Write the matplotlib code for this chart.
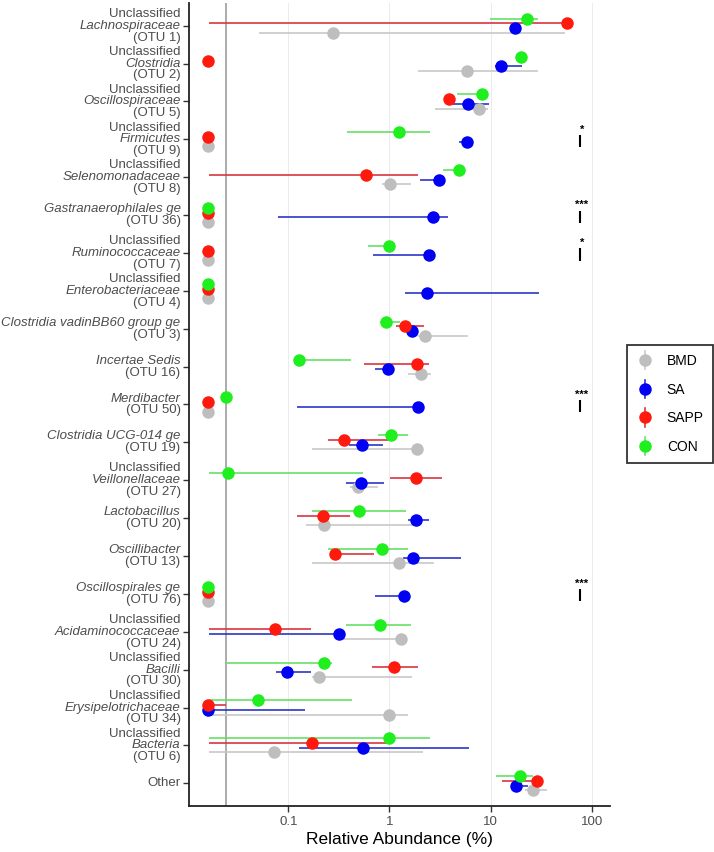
import numpy as np
import matplotlib
matplotlib.use("Agg")
import matplotlib.pyplot as plt
from matplotlib.lines import Line2D
from matplotlib.transforms import blended_transform_factory, ScaledTranslation

plt.rcParams["font.family"] = ["Liberation Sans", "DejaVu Sans"]

# Row labels: (plain line, italic line, OTU line)
taxa = [
    ("Unclassified", "Lachnospiraceae", "(OTU 1)"),
    ("Unclassified", "Clostridia", "(OTU 2)"),
    ("Unclassified", "Oscillospiraceae", "(OTU 5)"),
    ("Unclassified", "Firmicutes", "(OTU 9)"),
    ("Unclassified", "Selenomonadaceae", "(OTU 8)"),
    ("", "Gastranaerophilales ge", "(OTU 36)"),
    ("Unclassified", "Ruminococcaceae", "(OTU 7)"),
    ("Unclassified", "Enterobacteriaceae", "(OTU 4)"),
    ("", "Clostridia vadinBB60 group ge", "(OTU 3)"),
    ("", "Incertae Sedis", "(OTU 16)"),
    ("", "Merdibacter", "(OTU 50)"),
    ("", "Clostridia UCG-014 ge", "(OTU 19)"),
    ("Unclassified", "Veillonellaceae", "(OTU 27)"),
    ("", "Lactobacillus", "(OTU 20)"),
    ("", "Oscillibacter", "(OTU 13)"),
    ("", "Oscillospirales ge", "(OTU 76)"),
    ("Unclassified", "Acidaminococcaceae", "(OTU 24)"),
    ("Unclassified", "Bacilli", "(OTU 30)"),
    ("Unclassified", "Erysipelotrichaceae", "(OTU 34)"),
    ("Unclassified", "Bacteria", "(OTU 6)"),
    ("Other", "", ""),
]

groups = ["BMD", "SA", "SAPP", "CON"]

# Relative abundance (%), median with lower/upper range
bmd_mid = [0.275, 5.9, 7.64, 0.016, 1.02, 0.016, 0.016, 0.016, 2.25, 2.04, 0.016,
           1.89, 0.494, 0.223, 1.24, 0.016, 1.30, 0.199, 1.0, 0.0724, 26.5]
bmd_lo = [0.051, 1.91, 2.83, 0.016, 0.85, 0.016, 0.016, 0.016, 1.9, 1.54, 0.016,
          0.173, 0.408, 0.15, 0.173, 0.016, 0.32, 0.17, 0.0163, 0.0163, 22.0]
bmd_hi = [54.5, 29.3, 9.5, 0.016, 1.63, 0.016, 0.016, 0.016, 6.04, 2.58, 0.016,
          1.95, 0.778, 1.82, 2.78, 0.016, 1.35, 1.66, 1.52, 2.17, 35.9]

sa_mid = [17.5, 12.7, 5.95, 5.81, 3.12, 2.72, 2.45, 2.34, 1.67, 0.963, 1.91,
          0.533, 0.521, 1.82, 1.70, 1.39, 0.316, 0.098, 0.016, 0.553, 17.9]
sa_lo = [16.0, 11.0, 4.3, 4.84, 2.01, 0.0787, 0.684, 1.43, 1.5, 0.72, 0.121,
         0.394, 0.373, 1.54, 1.37, 0.721, 0.0163, 0.0752, 0.016, 0.126, 16.0]
sa_hi = [19.0, 20.6, 9.67, 6.3, 3.42, 3.77, 2.6, 30.4, 1.9, 1.0, 2.0,
         0.859, 0.885, 2.47, 5.07, 1.5, 0.33, 0.167, 0.145, 6.13, 23.7]

sapp_mid = [57.5, 0.016, 3.92, 0.016, 0.584, 0.016, 0.016, 0.016, 1.41, 1.89, 0.016,
            0.359, 1.83, 0.219, 0.29, 0.016, 0.073, 1.11, 0.016, 0.171, 28.6]
sapp_lo = [0.0163, 0.016, 3.7, 0.016, 0.0163, 0.016, 0.016, 0.016, 1.15, 0.557, 0.016,
           0.244, 1.02, 0.123, 0.26, 0.016, 0.0163, 0.669, 0.016, 0.0163, 13.1]
sapp_hi = [57.5, 0.016, 4.2, 0.016, 1.93, 0.016, 0.016, 0.016, 2.22, 2.47, 0.016,
           0.977, 3.34, 0.408, 0.705, 0.016, 0.168, 1.93, 0.0244, 1.0, 30.0]

con_mid = [23.1, 19.9, 8.18, 1.23, 4.88, 0.016, 0.985, 0.016, 0.927, 0.126, 0.0243,
           1.04, 0.0252, 0.505, 0.846, 0.016, 0.809, 0.226, 0.0496, 1.0, 19.6]
con_lo = [9.9, 18.0, 4.63, 0.379, 3.42, 0.016, 0.611, 0.016, 0.8, 0.12, 0.0243,
          0.778, 0.0163, 0.171, 0.244, 0.016, 0.37, 0.0243, 0.0163, 0.0163, 11.3]
con_hi = [29.7, 21.5, 9.2, 2.52, 5.39, 0.016, 1.05, 0.016, 1.26, 0.418, 0.0243,
          1.51, 0.553, 1.46, 1.54, 0.016, 1.64, 0.269, 0.425, 2.52, 26.5]

# significance stars (row index, label)
sig_rows = [3, 5, 6, 10, 15]
sig_labels = ["*", "***", "*", "***", "***"]

detect_limit = 0.024

point_colors = {"BMD": "#BEBEBE", "SA": "#0000F5", "SAPP": "#FF1A0D", "CON": "#1FEE1F"}
line_colors = {"BMD": "#C8C8C8", "SA": "#2B35C8", "SAPP": "#D9363E", "CON": "#66E066"}
offsets = {"BMD": 0.1875, "SA": 0.0625, "SAPP": -0.0625, "CON": -0.1875}

series = {
    "BMD": (bmd_mid, bmd_lo, bmd_hi),
    "SA": (sa_mid, sa_lo, sa_hi),
    "SAPP": (sapp_mid, sapp_lo, sapp_hi),
    "CON": (con_mid, con_lo, con_hi),
}


class PointRangeHandler:
    """Legend key like ggplot's pointrange: a dot with a vertical line through it."""

    def __init__(self, line_color, point_color):
        self.line_color = line_color
        self.point_color = point_color

    def legend_artist(self, legend, orig_handle, fontsize, handlebox):
        cx = -handlebox.xdescent + handlebox.width / 2
        cy = -handlebox.ydescent + handlebox.height / 2
        h = handlebox.height
        bar = Line2D([cx, cx], [cy - h * 0.95, cy + h * 0.95], color=self.line_color, lw=1.2)
        dot = Line2D([cx], [cy], marker="o", ms=9, color=self.point_color, mec="none", ls="none")
        handlebox.add_artist(bar)
        handlebox.add_artist(dot)
        return dot


fig = plt.figure(figsize=(7.14, 8.52), dpi=100)
ax = fig.add_axes([189 / 714, 1 - 806 / 852, (610 - 189) / 714, (806 - 3) / 852])

rows = np.arange(1, len(taxa) + 1)

ax.axvline(detect_limit, color="#ABABAB", lw=1.4, zorder=1)

# error bars first, then points
for g in groups:
    mid, lo, hi = series[g]
    y = rows + offsets[g]
    ax.hlines(y, lo, hi, color=line_colors[g], lw=1.2, zorder=2)
proxies = []
for g in groups:
    mid, lo, hi = series[g]
    y = rows + offsets[g]
    p, = ax.plot(mid, y, "o", color=point_colors[g], ms=9, mec="none", zorder=3)
    proxies.append(p)

ax.set_xscale("log")
ax.set_xlim(0.0104, 152)
ax.set_ylim(len(taxa) + 0.6, 0.4)
ax.xaxis.set_minor_locator(matplotlib.ticker.NullLocator())
ax.set_xticks([0.1, 1, 10, 100])
ax.set_xticklabels(["0.1", "1", "10", "100"])
ax.grid(axis="x", color="#EBEBEB", lw=0.7, zorder=0)
ax.set_axisbelow(True)

ax.set_yticks(rows)
ax.set_yticklabels([])
ax.tick_params(axis="y", length=4, width=1, color="#333333")
ax.tick_params(axis="x", length=4, width=1, color="#333333", labelsize=9.5,
               labelcolor="#4D4D4D", pad=3)
for side in ["top", "right"]:
    ax.spines[side].set_visible(False)
for side in ["left", "bottom"]:
    ax.spines[side].set_color("#222222")
    ax.spines[side].set_linewidth(1.3)

ax.set_xlabel("Relative Abundance (%)", fontsize=12.5, labelpad=3)

# multi-line y labels with italic taxon names
trans = blended_transform_factory(ax.transAxes, ax.transData)
line_h = 0.118
for r, parts in zip(rows, taxa):
    lines = [(t, k == 1) for k, t in enumerate(parts) if t]
    n = len(lines)
    for j, (txt, italic) in enumerate(lines):
        dy = ((n - 1) / 2 - j) * line_h
        off = ScaledTranslation(-0.085, dy, fig.dpi_scale_trans)
        ax.text(0, r, txt, transform=trans + off, ha="right", va="center",
                fontsize=9.5, color="#4D4D4D", style="italic" if italic else "normal")

# significance marks
for r, s in zip(sig_rows, sig_labels):
    yr = rows[r]
    ax.text(80, yr - 0.26, s, ha="center", va="center", fontsize=8, fontweight="bold")
    ax.vlines(76, yr - 0.12, yr + 0.2, color="black", lw=1.5)

hmap = {p: PointRangeHandler(line_colors[g], point_colors[g]) for p, g in zip(proxies, groups)}
leg = fig.legend(proxies, groups, handler_map=hmap,
                 loc="center", bbox_to_anchor=(670 / 714, 1 - 404 / 852),
                 frameon=True, fancybox=False, edgecolor="black", fontsize=10,
                 handlelength=1.2, handletextpad=1.0, labelspacing=1.05,
                 borderpad=0.65)
leg.get_frame().set_linewidth(1.3)

fig.savefig("out.png", dpi=100)
